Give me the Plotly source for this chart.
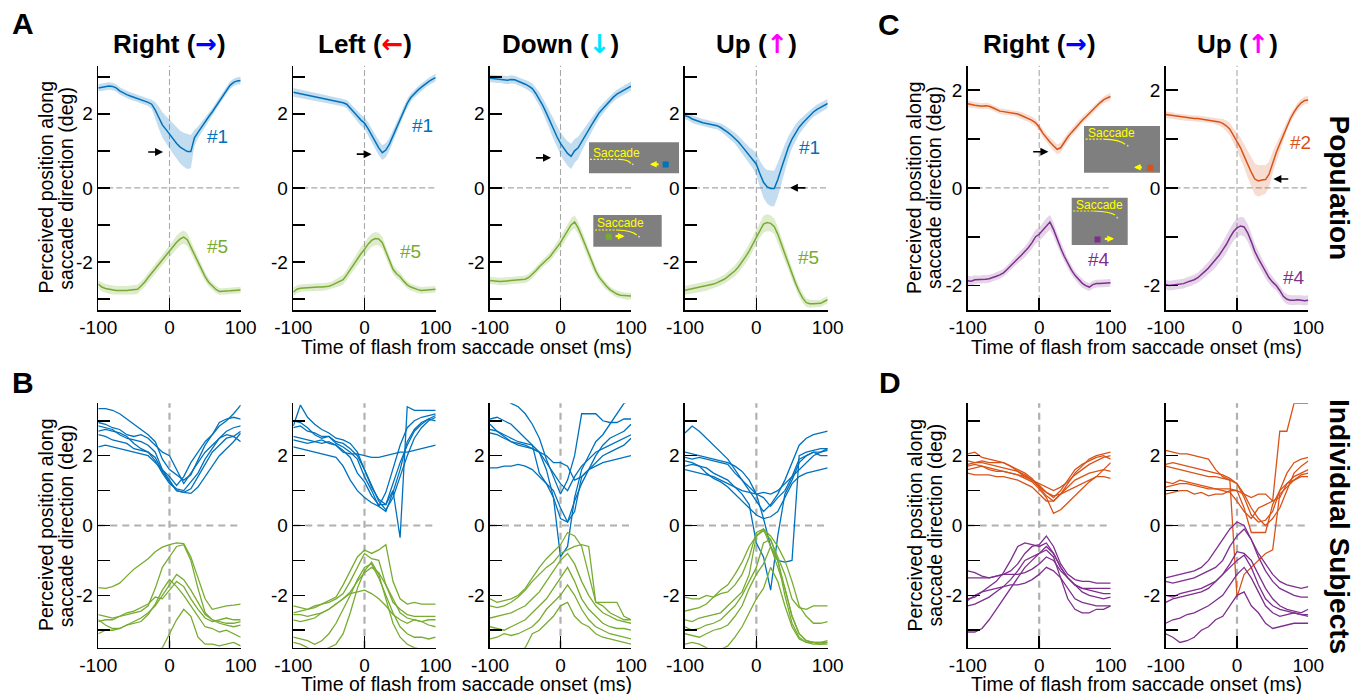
import plotly.graph_objects as go

W, H = 1363, 694
FONT = "Liberation Sans, Arial, Helvetica, sans-serif"

# ---------------- time grids ----------------
T5 = list(range(-100, 101, 5))
T10 = list(range(-100, 101, 10))

# ---------------- population means (5 ms grid) ----------------
A1_blue = [2.70,2.72,2.74,2.75,2.74,2.70,2.62,2.56,2.52,2.48,2.45,2.41,2.38,2.35,2.31,2.26,2.10,1.90,1.70,1.58,
           1.45,1.32,1.20,1.10,1.03,0.98,0.98,1.35,1.50,1.65,1.78,1.92,2.05,2.20,2.35,2.50,2.65,2.77,2.85,2.89,2.90]
A1_green = [-2.60,-2.68,-2.72,-2.74,-2.76,-2.77,-2.77,-2.78,-2.77,-2.76,-2.76,-2.74,-2.65,-2.55,-2.42,-2.30,-2.18,-2.08,-1.95,-1.82,
            -1.72,-1.60,-1.47,-1.38,-1.33,-1.40,-1.60,-1.80,-2.02,-2.22,-2.40,-2.55,-2.66,-2.74,-2.80,-2.80,-2.79,-2.78,-2.77,-2.76,-2.76]
A2_blue = [2.58,2.56,2.54,2.52,2.50,2.48,2.46,2.44,2.42,2.40,2.38,2.36,2.34,2.33,2.30,2.26,2.16,2.06,1.94,1.83,
           1.75,1.60,1.42,1.25,1.08,0.95,1.02,1.18,1.40,1.62,1.85,2.08,2.28,2.44,2.55,2.64,2.72,2.80,2.87,2.93,2.98]
A2_green = [-2.82,-2.74,-2.71,-2.70,-2.70,-2.69,-2.69,-2.68,-2.68,-2.67,-2.66,-2.62,-2.58,-2.54,-2.48,-2.35,-2.20,-2.05,-1.92,-1.78,
            -1.66,-1.52,-1.42,-1.37,-1.38,-1.48,-1.72,-1.98,-2.20,-2.32,-2.40,-2.52,-2.62,-2.68,-2.72,-2.75,-2.77,-2.76,-2.76,-2.75,-2.74]
A3_blue = [2.96,2.95,2.93,2.94,2.92,2.91,2.93,2.92,2.88,2.85,2.80,2.75,2.68,2.55,2.40,2.22,2.02,1.80,1.58,1.38,
           1.20,1.05,0.93,0.85,1.00,1.08,1.25,1.42,1.58,1.73,1.88,2.03,2.14,2.25,2.36,2.45,2.53,2.58,2.65,2.70,2.75]
A3_green = [-2.50,-2.52,-2.52,-2.53,-2.52,-2.51,-2.50,-2.50,-2.49,-2.48,-2.47,-2.42,-2.34,-2.24,-2.13,-2.03,-1.95,-1.86,-1.74,-1.60,
            -1.48,-1.32,-1.16,-1.00,-0.92,-1.08,-1.30,-1.55,-1.80,-2.05,-2.25,-2.42,-2.55,-2.65,-2.75,-2.82,-2.87,-2.90,-2.91,-2.93,-2.92]
A4_blue = [1.95,1.92,1.86,1.82,1.78,1.76,1.74,1.72,1.70,1.68,1.63,1.57,1.50,1.42,1.34,1.24,1.12,1.00,0.88,0.78,
           0.64,0.38,0.15,0.03,-0.02,-0.02,0.22,0.52,0.82,1.10,1.32,1.50,1.64,1.75,1.86,1.96,2.05,2.12,2.18,2.22,2.28]
A4_green = [-2.77,-2.75,-2.73,-2.72,-2.70,-2.68,-2.66,-2.64,-2.60,-2.56,-2.52,-2.47,-2.40,-2.32,-2.24,-2.13,-2.00,-1.86,-1.70,-1.52,
            -1.32,-1.12,-0.98,-0.94,-0.96,-1.04,-1.25,-1.52,-1.80,-2.05,-2.32,-2.58,-2.80,-2.98,-3.10,-3.13,-3.13,-3.12,-3.12,-3.07,-3.02]
C1_orange = [1.72,1.70,1.69,1.68,1.67,1.68,1.67,1.64,1.60,1.57,1.56,1.55,1.54,1.53,1.51,1.48,1.45,1.42,1.38,1.33,
             1.24,1.12,1.02,0.94,0.86,0.79,0.82,0.94,1.04,1.13,1.22,1.30,1.38,1.45,1.53,1.60,1.67,1.74,1.80,1.84,1.87]
C1_purple = [-1.90,-1.91,-1.88,-1.88,-1.87,-1.87,-1.86,-1.84,-1.81,-1.78,-1.74,-1.67,-1.59,-1.52,-1.45,-1.38,-1.31,-1.22,-1.12,-1.00,
             -0.95,-0.86,-0.77,-0.70,-0.85,-1.05,-1.23,-1.40,-1.55,-1.68,-1.79,-1.88,-1.95,-2.00,-2.03,-1.98,-1.96,-1.96,-1.95,-1.95,-1.94]
C2_orange = [1.50,1.49,1.47,1.46,1.45,1.44,1.43,1.43,1.42,1.42,1.41,1.40,1.39,1.38,1.37,1.35,1.32,1.27,1.20,1.07,
             0.95,0.82,0.65,0.48,0.32,0.18,0.14,0.16,0.17,0.28,0.52,0.72,0.90,1.08,1.28,1.42,1.55,1.66,1.74,1.79,1.80]
C2_purple = [-1.98,-2.00,-1.99,-1.98,-1.97,-1.96,-1.93,-1.91,-1.88,-1.84,-1.78,-1.71,-1.64,-1.56,-1.48,-1.38,-1.27,-1.16,-1.02,-0.90,
             -0.82,-0.78,-0.80,-0.92,-1.10,-1.30,-1.45,-1.58,-1.72,-1.84,-1.93,-2.00,-2.10,-2.22,-2.28,-2.30,-2.30,-2.29,-2.30,-2.31,-2.30]

# ---------------- error band half-widths (5 ms grid) ----------------
A1_blue_hw = [0.10,0.10,0.10,0.10,0.10,0.10,0.10,0.10,0.10,0.10,0.10,0.10,0.10,0.10,0.10,0.12,0.22,0.30,0.34,0.36,
              0.38,0.40,0.42,0.44,0.46,0.47,0.45,0.22,0.16,0.13,0.12,0.11,0.10,0.10,0.10,0.10,0.10,0.10,0.10,0.10,0.10]
A1_green_hw = [0.10,0.12,0.12,0.12,0.12,0.12,0.12,0.12,0.12,0.12,0.12,0.12,0.12,0.12,0.12,0.12,0.13,0.13,0.14,0.15,
               0.16,0.17,0.18,0.18,0.18,0.17,0.16,0.15,0.14,0.13,0.12,0.11,0.10,0.10,0.09,0.09,0.09,0.09,0.09,0.09,0.09]
A2_blue_hw = [0.12,0.12,0.11,0.11,0.10,0.10,0.10,0.10,0.10,0.10,0.10,0.10,0.10,0.10,0.10,0.11,0.12,0.13,0.14,0.15,
              0.16,0.17,0.18,0.19,0.20,0.20,0.19,0.17,0.15,0.14,0.13,0.12,0.12,0.11,0.11,0.10,0.10,0.10,0.10,0.10,0.10]
A2_green_hw = [0.12,0.11,0.10,0.10,0.10,0.10,0.10,0.10,0.10,0.10,0.10,0.10,0.11,0.12,0.13,0.14,0.15,0.16,0.17,0.18,
               0.18,0.18,0.18,0.18,0.17,0.16,0.15,0.14,0.13,0.12,0.11,0.10,0.10,0.09,0.09,0.09,0.09,0.09,0.09,0.09,0.09]
A3_blue_hw = [0.10,0.10,0.10,0.10,0.11,0.11,0.11,0.11,0.11,0.11,0.12,0.13,0.14,0.16,0.18,0.20,0.22,0.24,0.26,0.28,
              0.30,0.32,0.33,0.34,0.32,0.30,0.27,0.24,0.21,0.18,0.16,0.15,0.14,0.13,0.12,0.12,0.12,0.12,0.12,0.12,0.12]
A3_green_hw = [0.10,0.10,0.10,0.10,0.10,0.10,0.10,0.10,0.10,0.10,0.10,0.10,0.10,0.10,0.10,0.10,0.11,0.12,0.13,0.14,
               0.15,0.16,0.17,0.18,0.18,0.17,0.16,0.15,0.14,0.13,0.12,0.11,0.10,0.10,0.09,0.09,0.09,0.09,0.09,0.09,0.09]
A4_blue_hw = [0.10,0.10,0.10,0.10,0.10,0.10,0.10,0.10,0.10,0.10,0.11,0.12,0.13,0.14,0.15,0.16,0.18,0.20,0.22,0.25,
              0.30,0.36,0.42,0.45,0.48,0.48,0.46,0.42,0.36,0.30,0.25,0.22,0.19,0.17,0.15,0.14,0.13,0.13,0.12,0.12,0.12]
A4_green_hw = [0.12,0.12,0.12,0.12,0.12,0.12,0.12,0.12,0.12,0.12,0.12,0.12,0.13,0.14,0.15,0.16,0.17,0.18,0.19,0.20,
               0.21,0.22,0.23,0.23,0.22,0.21,0.20,0.19,0.18,0.17,0.16,0.15,0.14,0.13,0.12,0.11,0.10,0.10,0.10,0.10,0.10]
C1_orange_hw = [0.07,0.07,0.06,0.06,0.06,0.06,0.06,0.06,0.06,0.06,0.06,0.06,0.06,0.06,0.06,0.07,0.07,0.07,0.08,0.08,
                0.08,0.09,0.09,0.09,0.10,0.10,0.10,0.09,0.09,0.08,0.08,0.08,0.07,0.07,0.07,0.07,0.07,0.07,0.07,0.07,0.07]
C1_purple_hw = [0.10,0.10,0.09,0.08,0.08,0.08,0.08,0.08,0.08,0.08,0.08,0.08,0.09,0.09,0.10,0.10,0.11,0.12,0.13,0.14,
                0.14,0.15,0.15,0.15,0.14,0.13,0.12,0.11,0.10,0.10,0.09,0.09,0.09,0.08,0.08,0.08,0.08,0.08,0.08,0.08,0.08]
C2_orange_hw = [0.07,0.07,0.07,0.06,0.06,0.06,0.06,0.06,0.06,0.06,0.06,0.06,0.06,0.06,0.07,0.08,0.09,0.11,0.13,0.15,
                0.18,0.21,0.24,0.27,0.30,0.32,0.32,0.31,0.29,0.26,0.22,0.18,0.15,0.12,0.10,0.09,0.08,0.08,0.08,0.08,0.08]
C2_purple_hw = [0.10,0.10,0.10,0.10,0.10,0.10,0.10,0.10,0.10,0.10,0.11,0.12,0.13,0.14,0.15,0.16,0.17,0.18,0.18,0.19,
                0.19,0.19,0.19,0.18,0.17,0.16,0.15,0.14,0.13,0.12,0.11,0.10,0.10,0.10,0.10,0.10,0.10,0.10,0.10,0.10,0.10]

# ---------------- individual subjects (10 ms grid) ----------------
B1_blue = [
    [3.35,3.35,3.30,3.20,3.05,2.90,2.75,2.60,2.40,1.90,1.60,1.45,1.30,1.45,1.90,2.30,2.60,2.85,3.00,3.20,3.45],
    [2.85,2.80,2.75,2.60,2.50,2.45,2.40,2.30,2.10,1.60,1.30,1.00,0.95,0.92,1.10,1.40,1.70,2.00,2.20,2.40,2.65],
    [2.60,2.55,2.45,2.40,2.35,2.20,2.15,2.10,1.85,1.50,1.20,1.05,1.00,1.25,1.50,1.90,2.20,2.50,2.70,2.80,2.85],
    [2.25,2.30,2.25,2.20,2.15,2.10,2.05,2.00,1.80,1.60,1.40,1.15,1.40,1.80,2.10,2.40,2.60,2.95,3.05,3.10,3.05],
    [2.95,2.90,2.80,2.75,2.60,2.55,2.60,2.50,2.30,2.10,2.00,1.60,1.20,1.50,1.80,2.10,2.30,2.50,2.60,2.55,2.70],
    [2.70,2.75,2.70,2.65,2.55,2.35,2.20,2.10,1.95,1.55,1.25,1.00,0.95,1.05,1.40,1.75,2.10,2.30,2.50,2.55,2.40]]
B1_green = [
    [-1.78,-1.80,-1.75,-1.65,-1.45,-1.25,-1.10,-0.95,-0.75,-0.62,-0.55,-0.50,-0.52,-0.90,-1.50,-2.10,-2.40,-2.35,-2.30,-2.28,-2.25],
    [-2.55,-2.60,-2.65,-2.60,-2.55,-2.50,-2.45,-2.30,-1.80,-1.20,-0.90,-0.60,-0.55,-1.00,-1.80,-2.50,-2.70,-2.75,-2.80,-2.80,-2.75],
    [-2.70,-2.85,-2.95,-2.95,-2.85,-2.75,-2.65,-2.50,-2.30,-2.00,-1.70,-1.40,-1.55,-1.85,-2.20,-2.55,-2.70,-2.80,-2.85,-2.90,-2.85],
    [-2.75,-2.70,-2.70,-2.60,-2.50,-2.45,-2.35,-2.25,-2.05,-2.10,-1.85,-1.60,-1.75,-2.10,-2.40,-2.65,-2.75,-2.70,-2.65,-2.70,-2.70],
    [-3.10,-3.00,-3.00,-2.95,-2.85,-2.80,-2.75,-2.55,-2.25,-1.85,-1.55,-1.75,-2.00,-2.30,-2.60,-2.90,-2.95,-3.05,-3.00,-3.10,-3.20],
    [-3.60,-3.60,-3.60,-3.60,-3.60,-3.60,-3.60,-3.60,-3.60,-3.50,-3.10,-2.70,-2.40,-2.60,-3.20,-3.40,-3.40,-3.45,-3.40,-3.35,-3.45]]
B2_blue = [
    [2.85,3.45,3.10,2.90,2.75,2.65,2.50,2.45,2.35,2.10,1.60,1.10,0.75,0.60,1.00,-0.35,3.40,3.30,3.30,3.30,3.30],
    [3.00,2.95,2.80,2.60,2.50,2.55,2.40,2.35,2.20,2.00,1.60,1.15,0.70,0.45,0.80,1.40,2.00,2.50,2.80,3.00,3.10],
    [2.55,2.50,2.45,2.40,2.35,2.40,2.30,2.10,2.05,2.05,2.00,1.95,1.95,2.00,2.05,2.10,2.10,2.15,2.20,2.25,2.30],
    [2.45,2.40,2.35,2.40,2.45,2.35,2.30,2.15,1.95,1.50,1.25,0.85,0.60,0.60,1.20,1.80,2.30,2.70,2.90,3.05,3.00],
    [2.25,2.20,2.15,2.10,2.05,2.00,1.95,1.70,1.30,1.00,0.80,0.65,0.55,0.95,1.60,2.30,2.80,3.00,3.10,3.15,3.20],
    [2.80,2.85,2.70,2.65,2.55,2.55,2.35,2.25,2.10,1.90,1.40,1.00,0.55,0.40,0.95,1.60,2.40,2.75,2.95,3.05,3.15]]
B2_green = [
    [-2.30,-2.35,-2.40,-2.35,-2.25,-2.15,-2.05,-1.70,-1.30,-0.90,-0.70,-0.80,-0.70,-0.55,-1.60,-2.10,-2.25,-2.20,-2.25,-2.25,-2.25],
    [-2.50,-2.45,-2.40,-2.30,-2.25,-2.20,-2.10,-1.95,-1.60,-1.20,-0.80,-0.95,-1.00,-1.70,-2.20,-2.40,-2.55,-2.60,-2.60,-2.60,-2.60],
    [-2.70,-2.75,-2.70,-2.65,-2.50,-2.40,-2.25,-2.10,-1.90,-1.60,-1.35,-1.20,-1.35,-1.70,-2.10,-2.50,-2.65,-2.70,-2.75,-2.85,-2.90],
    [-2.55,-2.55,-2.60,-2.55,-2.50,-2.40,-2.25,-2.10,-1.95,-1.90,-1.85,-1.95,-2.10,-2.30,-2.55,-2.70,-2.80,-2.70,-2.75,-2.70,-2.70],
    [-3.20,-3.25,-3.30,-3.40,-3.30,-3.10,-2.80,-2.40,-2.00,-1.55,-1.20,-1.10,-1.50,-2.00,-2.50,-2.90,-3.10,-3.20,-3.20,-3.25,-3.20],
    [-3.35,-3.40,-3.50,-3.60,-3.60,-3.50,-3.40,-3.10,-2.50,-1.80,-1.30,-1.05,-1.40,-2.10,-2.80,-3.20,-3.40,-3.50,-3.55,-3.55,-3.55]]
B3_blue = [
    [3.60,3.60,3.60,3.50,3.40,3.20,2.90,2.50,1.90,1.40,0.90,1.30,2.00,3.20,3.20,3.20,3.00,2.95,2.95,3.05,3.05],
    [3.05,3.10,3.00,2.90,2.70,2.50,2.30,2.10,1.60,0.80,-0.90,-0.60,0.80,1.60,2.00,2.40,2.60,2.90,3.20,3.50,3.60],
    [2.75,2.70,2.60,2.50,2.40,2.35,2.30,1.50,1.20,0.80,0.20,0.10,0.70,1.20,1.60,2.00,2.30,2.50,2.60,2.70,2.90],
    [2.65,2.60,2.50,2.40,2.35,2.30,2.20,2.10,1.80,1.50,1.20,1.00,1.40,1.70,1.90,2.10,2.20,2.30,2.40,2.50,2.60],
    [2.90,2.70,2.55,2.40,2.30,2.25,2.20,2.10,2.00,1.80,1.80,1.70,1.30,1.40,1.60,1.80,2.00,2.10,2.20,2.30,2.50],
    [1.65,1.65,1.70,1.70,1.75,1.70,1.60,1.40,1.20,1.00,0.50,0.10,0.40,1.40,1.60,1.70,1.80,1.85,1.90,1.95,2.00]]
B3_green = [
    [-2.10,-2.20,-2.15,-2.10,-2.00,-1.80,-1.50,-1.20,-0.95,-0.75,-0.55,-0.20,-0.30,-0.60,-1.40,-2.20,-2.30,-2.50,-2.60,-2.70,-2.70],
    [-2.30,-2.35,-2.30,-2.20,-2.05,-1.85,-1.60,-1.40,-1.20,-1.05,-0.80,-0.70,-0.60,-0.55,-0.60,-2.20,-2.20,-2.20,-2.20,-2.60,-2.70],
    [-2.65,-2.60,-2.55,-2.50,-2.40,-2.30,-2.10,-1.90,-1.60,-1.30,-1.00,-0.80,-1.10,-1.60,-2.00,-2.30,-2.50,-2.60,-2.70,-2.75,-2.80],
    [-2.90,-2.95,-3.00,-2.90,-2.80,-2.70,-2.50,-2.30,-2.10,-1.80,-1.50,-1.20,-1.60,-2.10,-2.40,-2.60,-2.80,-2.90,-2.95,-2.95,-3.00],
    [-3.25,-3.20,-3.10,-3.15,-3.10,-3.00,-2.90,-2.70,-2.40,-2.20,-2.00,-1.70,-2.00,-2.40,-2.70,-2.90,-3.00,-3.10,-3.15,-3.20,-3.25],
    [-3.60,-3.60,-3.60,-3.60,-3.60,-3.50,-3.10,-3.00,-2.80,-2.60,-2.30,-2.20,-2.60,-2.80,-2.90,-3.10,-3.20,-3.25,-3.30,-3.35,-3.40]]
B4_blue = [
    [2.65,2.85,2.70,2.50,2.30,2.10,1.90,1.60,1.30,1.00,0.70,0.40,0.60,0.90,1.30,1.80,2.30,2.50,2.60,2.65,2.70],
    [2.10,2.05,2.00,1.95,1.90,1.85,1.80,1.70,1.55,1.30,0.90,0.20,-0.60,-1.00,-1.05,-1.00,2.00,2.10,2.15,2.20,2.20],
    [1.95,1.90,1.95,1.90,1.85,1.80,1.75,1.50,1.30,1.10,0.90,0.80,0.55,0.80,1.00,1.40,1.90,2.00,2.10,2.00,2.00],
    [1.70,1.75,1.70,1.65,1.50,1.40,1.30,1.10,1.00,0.95,0.90,0.95,0.90,1.00,1.20,1.40,1.60,1.80,2.00,2.10,2.20],
    [1.85,1.80,1.70,1.50,1.35,1.25,1.10,0.90,0.70,0.50,0.30,0.20,0.25,0.40,0.80,1.20,1.40,1.50,1.55,1.60,1.65],
    [1.60,1.55,1.50,1.45,1.40,1.30,1.20,1.10,0.90,0.60,-0.50,-0.90,-1.85,-0.30,0.90,1.30,1.80,2.00,2.10,2.10,2.15]]
B4_green = [
    [-2.45,-2.40,-2.35,-2.25,-2.05,-1.85,-1.70,-1.40,-1.05,-0.60,-0.30,-0.15,-0.40,-0.90,-1.40,-2.10,-2.35,-2.40,-2.30,-2.30,-2.30],
    [-2.05,-2.10,-2.10,-2.00,-2.05,-1.95,-1.90,-1.70,-1.40,-0.90,-0.20,-0.10,-0.30,-0.60,-1.00,-1.60,-2.30,-2.60,-2.80,-2.80,-2.75],
    [-2.70,-2.75,-2.65,-2.60,-2.55,-2.50,-2.30,-2.10,-1.90,-1.40,-0.30,-0.10,-0.60,-1.20,-1.80,-2.60,-3.10,-3.30,-3.35,-3.40,-3.35],
    [-2.90,-3.00,-2.95,-2.85,-2.80,-2.70,-2.50,-2.30,-2.00,-1.60,-1.20,-0.50,-0.40,-1.00,-2.00,-2.80,-3.20,-3.35,-3.40,-3.40,-3.40],
    [-3.10,-3.15,-3.20,-3.10,-3.00,-2.95,-2.85,-2.60,-2.30,-1.80,-1.40,-1.10,-0.60,-1.00,-1.80,-2.60,-3.10,-3.30,-3.35,-3.35,-3.30],
    [-3.40,-3.35,-3.40,-3.50,-3.60,-3.55,-3.45,-3.20,-2.90,-2.50,-2.10,-1.80,-1.20,-1.60,-2.30,-2.90,-3.25,-3.35,-3.35,-3.35,-3.35]]
D1_orange = [
    [2.05,2.10,1.95,1.90,1.85,1.80,1.70,1.60,1.50,1.35,1.10,0.85,0.70,0.90,1.20,1.50,1.70,1.90,2.00,2.05,2.10],
    [1.85,1.80,1.80,1.75,1.70,1.65,1.60,1.55,1.45,1.30,1.15,0.95,0.80,1.00,1.30,1.60,1.75,1.85,1.95,2.00,1.90],
    [1.70,1.75,1.70,1.65,1.60,1.55,1.50,1.45,1.35,1.25,1.05,0.80,0.35,0.45,0.65,0.85,1.05,1.25,1.40,1.60,1.80],
    [1.60,1.65,1.70,1.60,1.55,1.55,1.50,1.45,1.40,1.30,1.10,0.95,0.85,0.90,1.00,1.10,1.20,1.30,1.40,1.40,1.35],
    [1.50,1.45,1.45,1.45,1.40,1.40,1.35,1.30,1.20,1.10,0.90,0.70,0.70,0.90,1.10,1.30,1.40,1.50,1.55,1.60,1.55],
    [1.75,1.80,1.85,1.80,1.80,1.80,1.70,1.55,1.40,1.30,1.20,1.10,1.00,1.10,1.25,1.45,1.60,1.75,1.85,1.95,2.00]]
D1_purple = [
    [-1.30,-1.35,-1.45,-1.50,-1.45,-1.40,-1.30,-1.10,-0.80,-0.60,-0.55,-0.30,-0.60,-1.10,-1.40,-1.55,-1.60,-1.60,-1.65,-1.65,-1.65],
    [-1.50,-1.50,-1.50,-1.50,-1.45,-1.40,-1.40,-1.40,-1.35,-1.25,-1.10,-0.90,-1.00,-1.30,-1.50,-1.70,-1.80,-1.85,-1.90,-1.95,-1.95],
    [-2.10,-2.05,-1.90,-1.75,-1.60,-1.35,-1.00,-0.60,-0.50,-0.55,-0.60,-0.50,-0.80,-1.20,-1.50,-1.70,-1.80,-1.80,-1.80,-1.80,-1.80],
    [-2.30,-2.25,-2.15,-2.05,-1.90,-1.75,-1.55,-1.30,-1.00,-0.90,-0.80,-0.60,-0.80,-1.20,-1.50,-1.70,-1.90,-2.00,-2.05,-2.10,-2.05],
    [-2.15,-2.00,-1.90,-1.85,-1.80,-1.75,-1.70,-1.70,-1.65,-1.55,-1.40,-1.20,-1.30,-1.50,-1.80,-2.10,-2.20,-2.25,-2.30,-2.30,-2.30],
    [-3.05,-3.05,-2.95,-2.70,-2.40,-2.10,-1.80,-1.50,-1.20,-1.00,-0.80,-0.70,-0.90,-1.50,-2.10,-2.40,-2.50,-2.50,-2.40,-2.40,-2.30]]
D2_orange = [
    [1.70,1.65,1.60,1.55,1.50,1.45,1.40,1.40,1.35,1.30,-2.05,-1.40,-1.20,-1.00,-0.80,-0.70,0.90,1.10,1.30,1.45,1.50],
    [1.25,1.20,1.30,1.25,1.20,1.15,1.10,1.05,1.00,0.95,0.70,0.40,0.20,0.50,0.60,0.70,2.70,2.70,3.50,3.50,3.50],
    [2.15,2.10,2.05,2.05,2.00,1.95,1.90,1.60,1.40,1.30,1.20,0.80,0.30,0.10,0.15,0.40,1.00,1.50,1.80,1.90,1.95],
    [1.75,1.80,1.75,1.70,1.65,1.60,1.55,1.50,1.45,1.35,1.20,0.90,0.50,0.20,0.00,0.20,0.50,1.00,1.50,1.70,1.85],
    [0.90,0.95,1.00,1.00,0.90,0.95,0.85,0.90,0.90,1.00,1.00,0.90,0.80,0.90,0.90,0.70,0.80,1.20,1.40,1.50,1.60],
    [1.10,1.15,1.20,1.20,1.15,1.10,1.05,1.05,1.05,1.05,1.00,0.50,-0.20,-0.20,-0.20,0.60,1.00,1.20,1.30,1.40,1.40]]
D2_purple = [
    [-1.50,-1.45,-1.40,-1.35,-1.30,-1.20,-1.00,-0.70,-0.40,-0.10,0.10,0.00,-0.40,-0.80,-1.10,-1.40,-1.60,-1.70,-1.75,-1.80,-1.75],
    [-1.60,-1.65,-1.60,-1.55,-1.50,-1.40,-1.30,-1.20,-1.00,-0.60,-0.30,-0.10,-0.40,-0.90,-1.30,-1.60,-1.80,-1.90,-2.00,-2.05,-2.05],
    [-2.00,-2.05,-1.95,-1.90,-1.85,-1.80,-1.70,-1.60,-1.40,-1.10,-0.75,-0.80,-1.00,-1.40,-1.80,-2.10,-2.30,-2.40,-2.45,-2.50,-2.40],
    [-2.20,-2.10,-2.05,-2.00,-1.95,-1.90,-1.80,-1.60,-1.40,-1.20,-1.00,-0.85,-1.20,-1.70,-2.10,-2.30,-2.40,-2.45,-2.50,-2.55,-2.55],
    [-2.80,-2.70,-2.65,-2.55,-2.50,-2.40,-2.30,-2.15,-2.00,-1.70,-1.40,-1.20,-1.50,-1.90,-2.30,-2.50,-2.60,-2.55,-2.50,-2.55,-2.60],
    [-3.10,-3.20,-3.35,-3.30,-3.20,-3.00,-2.90,-2.70,-2.60,-2.30,-2.00,-1.90,-2.30,-2.50,-2.80,-2.95,-2.90,-2.85,-2.80,-2.80,-2.80]]

# ---------------- text ----------------
TITLES_TOP = ["Right", "Left", "Down", "Up"]
TITLES_C = ["Right", "Up"]
ARROW_GLYPH = {"Right": ("\u2192", "#0000ff"), "Left": ("\u2190", "#ff0000"),
               "Down": ("\u2193", "#00e5ff"), "Up": ("\u2191", "#ff00ff")}
XTICKS = [-100, 0, 100]
XTICKTEXT = ["-100", "0", "100"]
YTICKS7 = [-3, -2, -1, 0, 1, 2, 3]
YTICKTEXT7 = ["", "-2", "", "0", "", "2", ""]
YTICKS5 = [-2, -1, 0, 1, 2]
YTICKTEXT5 = ["-2", "", "0", "", "2"]
YLABEL1 = "Perceived position along"
YLABEL2 = "saccade direction (deg)"
XLABEL = "Time of flash from saccade onset (ms)"

# trace labels: (panel, x, y, text, colour-key)
LABELS = [(1, 68, 1.39, "#1", "b"), (1, 67, -1.59, "#5", "g"),
          (2, 82, 1.69, "#1", "b"), (2, 65, -1.73, "#5", "g"),
          (3, 104, 1.62, "#1", "b"), (3, 101, -1.93, "#5", "g"),
          (4, 75, 1.10, "#1", "b"), (4, 73, -1.89, "#5", "g"),
          (5, 111, 1.52, "#2", "o"), (5, 83, -1.47, "#4", "p"),
          (6, 89, 0.92, "#2", "o"), (6, 80, -1.84, "#4", "p")]
# black arrows: (panel, tail x, tail y, head x, head y)
ARROWS = [(1, -32, 0.97, -9, 0.97), (2, -13, 0.91, 10, 0.91), (3, -37, 0.81, -13.5, 0.81),
          (4, 71, 0.0, 47, 0.0), (5, -10.5, 0.74, 12.8, 0.74), (6, 74, 0.18, 51, 0.18)]

# ---------------- styling ----------------
COL = {"b": "#0072BD", "g": "#77AC30", "o": "#D95319", "p": "#7E2F8E"}
BAND = {"b": "rgba(0,114,189,0.24)", "g": "rgba(119,172,48,0.24)",
        "o": "rgba(217,83,25,0.20)", "p": "rgba(126,47,142,0.20)"}


def xp(p):
    return p / W


def yp(p):
    return 1 - p / H


LEFT_COLS = [(98.3, 240.7), (293.3, 435.7), (490.0, 631.0), (685.0, 827.7)]
RIGHT_COLS = [(967.7, 1110.7), (1165.7, 1308.3)]
TOP_ROW = (65.7, 310.0)
BOT_ROW = (403.3, 647.7)
YRANGE = {"A": [-3.3, 3.3], "C": [-2.5, 2.5], "B": [-3.5, 3.5], "D": [-3.5, 3.5]}

panels = []
for c in LEFT_COLS:
    panels.append((c, TOP_ROW, "A"))
for c in RIGHT_COLS:
    panels.append((c, TOP_ROW, "C"))
for c in LEFT_COLS:
    panels.append((c, BOT_ROW, "B"))
for c in RIGHT_COLS:
    panels.append((c, BOT_ROW, "D"))


def sfx(k):
    return "" if k == 1 else str(k)


fig = go.Figure()
layout = {}
shapes = []
annotations = []

for k, (cx, ry, grp) in enumerate(panels, start=1):
    s = sfx(k)
    layout["xaxis" + s] = dict(domain=[xp(cx[0]), xp(cx[1])], anchor="y" + s, range=[-100, 100],
                               tickvals=XTICKS, ticktext=XTICKTEXT, ticks="inside", ticklen=12,
                               tickwidth=1.6, tickcolor="black", showline=True, linecolor="black",
                               linewidth=1.6, showgrid=False, zeroline=False, fixedrange=True,
                               automargin=False,
                               tickfont=dict(family=FONT, size=19, color="black"))
    if grp == "C":
        tv, tt = YTICKS5, YTICKTEXT5
    else:
        tv, tt = YTICKS7, YTICKTEXT7
    layout["yaxis" + s] = dict(domain=[yp(ry[1]), yp(ry[0])], anchor="x" + s, range=YRANGE[grp],
                               tickvals=tv, ticktext=tt, ticks="inside", ticklen=12,
                               tickwidth=1.6, tickcolor="black", showline=True, linecolor="black",
                               linewidth=1.6, showgrid=False, zeroline=False, fixedrange=True,
                               automargin=False,
                               tickfont=dict(family=FONT, size=19, color="black"))
    if grp in ("A", "C"):
        dl = dict(color="#a8a8a8", width=1.1, dash="6px,3px")
    else:
        dl = dict(color="#b0b0b0", width=2.2, dash="7px,5px")
    shapes.append(dict(type="line", xref="x" + s, yref="y" + s + " domain", x0=0, x1=0, y0=0, y1=1,
                       line=dl, layer="below"))
    shapes.append(dict(type="line", xref="x" + s + " domain", yref="y" + s, x0=0, x1=1, y0=0, y1=0,
                       line=dl, layer="below"))

# population means with bands
MEANS = [(1, A1_blue, A1_blue_hw, "b"), (1, A1_green, A1_green_hw, "g"),
         (2, A2_blue, A2_blue_hw, "b"), (2, A2_green, A2_green_hw, "g"),
         (3, A3_blue, A3_blue_hw, "b"), (3, A3_green, A3_green_hw, "g"),
         (4, A4_blue, A4_blue_hw, "b"), (4, A4_green, A4_green_hw, "g"),
         (5, C1_orange, C1_orange_hw, "o"), (5, C1_purple, C1_purple_hw, "p"),
         (6, C2_orange, C2_orange_hw, "o"), (6, C2_purple, C2_purple_hw, "p")]
for k, m, hw, c in MEANS:
    s = sfx(k)
    up = [a + b for a, b in zip(m, hw)]
    lo = [a - b for a, b in zip(m, hw)]
    fig.add_trace(go.Scatter(x=T5 + T5[::-1], y=up + lo[::-1], fill="toself", fillcolor=BAND[c],
                             line=dict(width=0), mode="lines", xaxis="x" + s, yaxis="y" + s,
                             hoverinfo="skip"))
for k, m, hw, c in MEANS:
    s = sfx(k)
    fig.add_trace(go.Scatter(x=T5, y=m, mode="lines", line=dict(color=COL[c], width=1.5),
                             xaxis="x" + s, yaxis="y" + s))

# individual subjects
INDIV = [(7, B1_blue, "b"), (7, B1_green, "g"), (8, B2_blue, "b"), (8, B2_green, "g"),
         (9, B3_blue, "b"), (9, B3_green, "g"), (10, B4_blue, "b"), (10, B4_green, "g"),
         (11, D1_orange, "o"), (11, D1_purple, "p"), (12, D2_orange, "o"), (12, D2_purple, "p")]
for k, group, c in INDIV:
    s = sfx(k)
    for tr in group:
        fig.add_trace(go.Scatter(x=T10, y=tr, mode="lines",
                                 line=dict(color=COL[c], width=1.3),
                                 xaxis="x" + s, yaxis="y" + s))


def title_html(name):
    g, col = ARROW_GLYPH[name]
    return ("<b>%s (<span style='color:%s;font-family:DejaVu Sans'>%s</span>)</b>"
            % (name, col, g))


for i, name in enumerate(TITLES_TOP):
    cx = LEFT_COLS[i]
    annotations.append(dict(text=title_html(name), xref="paper", yref="paper",
                            x=xp((cx[0] + cx[1]) / 2), y=yp(44), xanchor="center", yanchor="middle",
                            showarrow=False, font=dict(family=FONT, size=26, color="black")))
for i, name in enumerate(TITLES_C):
    cx = RIGHT_COLS[i]
    annotations.append(dict(text=title_html(name), xref="paper", yref="paper",
                            x=xp((cx[0] + cx[1]) / 2), y=yp(44), xanchor="center", yanchor="middle",
                            showarrow=False, font=dict(family=FONT, size=26, color="black")))

# panel letters
for letter, (lx, ly) in {"A": (22.5, 23), "B": (23, 382), "C": (889, 24), "D": (890, 382)}.items():
    annotations.append(dict(text="<b>%s</b>" % letter, xref="paper", yref="paper", x=xp(lx), y=yp(ly),
                            xanchor="center", yanchor="middle", showarrow=False,
                            font=dict(family=FONT, size=30, color="black")))

# y axis titles
for (x1, x2), yc in [((45.5, 65.8), 188), ((45.5, 65.8), 525.5), ((914, 934), 188), ((914, 934), 525.5)]:
    for xx, txt in [(x1, YLABEL1), (x2, YLABEL2)]:
        annotations.append(dict(text=txt, xref="paper", yref="paper", x=xp(xx), y=yp(yc),
                                xanchor="center", yanchor="middle", textangle=-90, showarrow=False,
                                font=dict(family=FONT, size=19.5, color="black")))

# x axis titles
for xc, yc in [(466, 347), (1136.5, 347), (466, 683.5), (1136.5, 683.5)]:
    annotations.append(dict(text=XLABEL, xref="paper", yref="paper", x=xp(xc), y=yp(yc),
                            xanchor="center", yanchor="middle", showarrow=False,
                            font=dict(family=FONT, size=19.5, color="black")))

# row labels on the right
annotations.append(dict(text="<b>Population</b>", xref="paper", yref="paper", x=xp(1339), y=yp(187.5),
                        xanchor="center", yanchor="middle", textangle=90, showarrow=False,
                        font=dict(family=FONT, size=28, color="black")))
annotations.append(dict(text="<b>Individual Subjects</b>", xref="paper", yref="paper", x=xp(1340), y=yp(526),
                        xanchor="center", yanchor="middle", textangle=90, showarrow=False,
                        font=dict(family=FONT, size=28, color="black")))

# "#n" labels
for k, x, y, t, c in LABELS:
    s = sfx(k)
    annotations.append(dict(text=t, xref="x" + s, yref="y" + s, x=x, y=y, xanchor="center",
                            yanchor="middle", showarrow=False,
                            font=dict(family=FONT, size=19, color=COL[c])))

# black arrows
for k, tx, ty, hx, hy in ARROWS:
    s = sfx(k)
    annotations.append(dict(text="", xref="x" + s, yref="y" + s, x=hx, y=hy, axref="x" + s,
                            ayref="y" + s, ax=tx, ay=ty, showarrow=True, arrowhead=2, arrowsize=1,
                            arrowwidth=1.6, arrowcolor="black"))

# schematic insets (decorations, pixel positions)
INSETS = [
    dict(rect=(589, 142.3, 679, 173.3), text=(590.5, 152.7),
         path=((590, 159.3), (620, 159.3), (628, 159.6), (631, 163.3)), dot=(632.7, 164.3),
         sq=(665.7, 164.5), col="b", tail=(660, 164.3), head=(650, 164.3)),
    dict(rect=(593.3, 215, 661.7, 246.7), text=(595, 223.3),
         path=((595, 230), (617, 230), (632, 230.5), (636.7, 235)), dot=(639, 236.7),
         sq=(608.8, 236.7), col="g", tail=(614, 236.2), head=(624.5, 236.2)),
    dict(rect=(1084, 126, 1160, 172.7), text=(1085.5, 133.3),
         path=((1085.7, 139.2), (1103.3, 139.2), (1120, 139.8), (1125, 144.3)), dot=(1127.7, 145.7),
         sq=(1150.3, 167.8), col="o", tail=(1143.3, 167.3), head=(1134, 167.3)),
    dict(rect=(1071.7, 197.7, 1127.7, 245), text=(1073.8, 205),
         path=((1073.3, 211), (1093.3, 211), (1110, 211.6), (1115, 215)), dot=(1117.3, 217.7),
         sq=(1097.5, 239.5), col="p", tail=(1103.3, 238.8), head=(1114, 238.8)),
]
YEL = "#ffff00"
for ins in INSETS:
    x0, y0, x1, y1 = ins["rect"]
    shapes.append(dict(type="rect", xref="paper", yref="paper", x0=xp(x0), x1=xp(x1), y0=yp(y1), y1=yp(y0),
                       fillcolor="#7f7f7f", line=dict(width=0), layer="above"))
    (a, b), (c, d), (e, f), (g, h) = ins["path"]
    shapes.append(dict(type="path", xref="paper", yref="paper",
                       path="M %f,%f L %f,%f" % (xp(a), yp(b), xp(c), yp(d)),
                       line=dict(color=YEL, width=1.2, dash="2px,1.5px"), layer="above"))
    shapes.append(dict(type="path", xref="paper", yref="paper",
                       path="M %f,%f Q %f,%f %f,%f" % (xp(c), yp(d), xp(e), yp(f), xp(g), yp(h)),
                       line=dict(color=YEL, width=1.2), layer="above"))
    dx, dy = ins["dot"]
    shapes.append(dict(type="circle", xref="paper", yref="paper", x0=xp(dx - 0.9), x1=xp(dx + 0.9),
                       y0=yp(dy + 0.9), y1=yp(dy - 0.9), fillcolor="#d8d8d8", line=dict(width=0),
                       layer="above"))
    sx, sy = ins["sq"]
    shapes.append(dict(type="rect", xref="paper", yref="paper", x0=xp(sx - 3), x1=xp(sx + 3),
                       y0=yp(sy + 3), y1=yp(sy - 3), fillcolor=COL[ins["col"]], line=dict(width=0),
                       layer="above"))
    tx, ty = ins["text"]
    annotations.append(dict(text="Saccade", xref="paper", yref="paper", x=xp(tx), y=yp(ty),
                            xanchor="left", yanchor="middle", showarrow=False,
                            font=dict(family=FONT, size=12, color=YEL)))
    (ax_, ay_), (hx_, hy_) = ins["tail"], ins["head"]
    annotations.append(dict(text="", xref="paper", yref="paper", x=xp(hx_), y=yp(hy_),
                            ax=ax_ - hx_, ay=ay_ - hy_, axref="pixel", ayref="pixel",
                            showarrow=True, arrowhead=2, arrowsize=0.6, arrowwidth=2.2, arrowcolor=YEL))

fig.update_layout(template="none")
fig.update_layout(**layout)
fig.update_layout(width=W, height=H, margin=dict(l=0, r=0, t=0, b=0, pad=0, autoexpand=False),
                  paper_bgcolor="white", plot_bgcolor="white", showlegend=False,
                  hovermode=False, shapes=shapes, annotations=annotations,
                  font=dict(family=FONT, color="black"))

fig.write_html("out.html", include_plotlyjs=True, config={"displayModeBar": False, "staticPlot": True},
               post_script="document.body.style.margin='0';document.body.style.overflow='hidden';")
